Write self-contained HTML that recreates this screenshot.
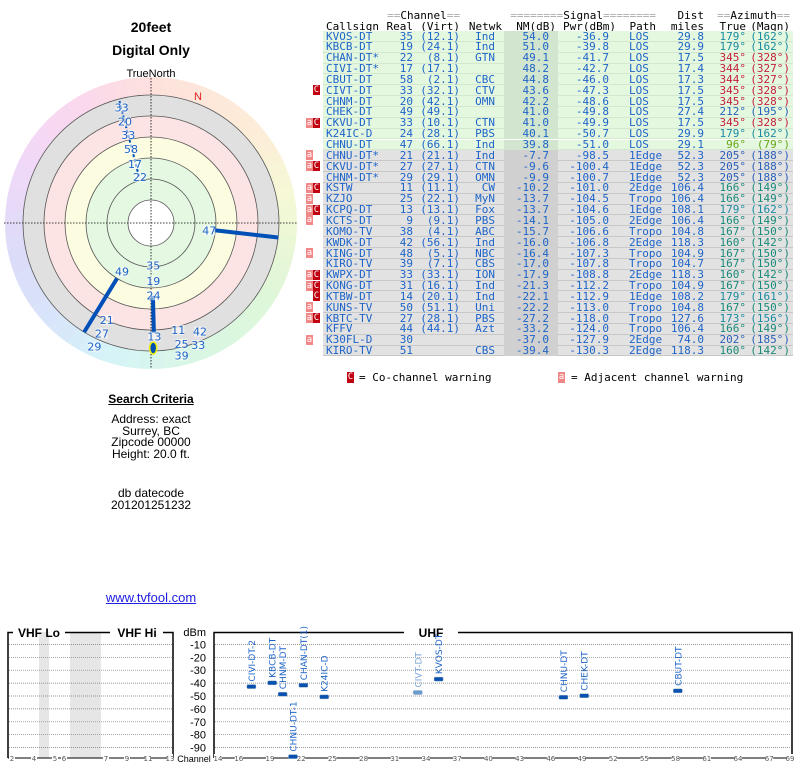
<!DOCTYPE html>
<html><head><meta charset="utf-8">
<style>
body{margin:0;width:800px;height:768px;background:#fff;position:relative;overflow:hidden;font-family:"Liberation Sans",sans-serif}
.a{position:absolute;white-space:pre}
.mono{font-family:"DejaVu Sans Mono","Liberation Mono",monospace;font-size:11px;color:#1e64c8}
.ctr{text-align:center}
.eq{color:#aaa}
</style></head><body>
<div class="a ctr" style="left:51px;top:19px;width:200px;font-weight:bold;font-size:14px">20feet</div>
<div class="a ctr" style="left:51px;top:42px;width:200px;font-weight:bold;font-size:14px">Digital Only</div>
<div class="a ctr" style="left:101px;top:68px;width:100px;font-size:11px">TrueNorth</div>

<svg id="polar" class="a" style="left:0;top:0" width="300" height="380"></svg>

<div class="a ctr" style="left:51px;top:392px;width:200px;font-weight:bold;font-size:12px;text-decoration:underline">Search Criteria</div>
<div class="a ctr" style="left:51px;top:414px;width:200px;font-size:12px;line-height:11.7px">Address: exact
Surrey, BC
Zipcode 00000
Height: 20.0 ft.</div>
<div class="a ctr" style="left:51px;top:487px;width:200px;font-size:12px;line-height:12px">db datecode
201201251232</div>
<div class="a ctr" style="left:51px;top:590px;width:200px;font-size:13px;color:#2020e0;text-decoration:underline">www.tvfool.com</div>

<div id="table" class="a" style="left:0;top:0;width:800px;height:390px"></div>

<svg id="spec" class="a" style="left:0;top:620px" width="800" height="148"></svg>

<script>
// ---------- table data ----------
const calls=["KVOS-DT","KBCB-DT","CHAN-DT*","CIVI-DT*","CBUT-DT","CIVT-DT","CHNM-DT","CHEK-DT","CKVU-DT","K24IC-D","CHNU-DT","CHNU-DT*","CKVU-DT*","CHNM-DT*","KSTW","KZJO","KCPQ-DT","KCTS-DT","KOMO-TV","KWDK-DT","KING-DT","KIRO-TV","KWPX-DT","KONG-DT","KTBW-DT","KUNS-TV","KBTC-TV","KFFV","K30FL-D","KIRO-TV"];
const realCh=[35,19,22,17,58,33,20,49,33,24,47,21,27,29,11,25,13,9,38,42,48,39,33,31,14,50,27,44,30,51];
const virtCh=["12.1","24.1","8.1","17.1","2.1","32.1","42.1","49.1","10.1","28.1","66.1","21.1","27.1","29.1","11.1","22.1","13.1","9.1","4.1","56.1","5.1","7.1","33.1","16.1","20.1","51.1","28.1","44.1","",""];
const netwk=["Ind","Ind","GTN","","CBC","CTV","OMN","","CTN","PBS","Ind","Ind","CTN","OMN","CW","MyN","Fox","PBS","ABC","Ind","NBC","CBS","ION","Ind","Ind","Uni","PBS","Azt","","CBS"];
const nmDb=[54.0,51.0,49.1,48.2,44.8,43.6,42.2,41.0,41.0,40.1,39.8,-7.7,-9.6,-9.9,-10.2,-13.7,-13.7,-14.1,-15.7,-16.0,-16.4,-17.0,-17.9,-21.3,-22.1,-22.2,-27.2,-33.2,-37.0,-39.4];
const pwrDbm=[-36.9,-39.8,-41.7,-42.7,-46.0,-47.3,-48.6,-49.8,-49.9,-50.7,-51.0,-98.5,-100.4,-100.7,-101.0,-104.5,-104.6,-105.0,-106.6,-106.8,-107.3,-107.8,-108.8,-112.2,-112.9,-113.0,-118.0,-124.0,-127.9,-130.3];
const paths=["LOS","LOS","LOS","LOS","LOS","LOS","LOS","LOS","LOS","LOS","LOS","1Edge","1Edge","1Edge","2Edge","Tropo","1Edge","2Edge","Tropo","2Edge","Tropo","Tropo","2Edge","Tropo","1Edge","Tropo","Tropo","Tropo","2Edge","2Edge"];
const distMi=[29.8,29.9,17.5,17.4,17.3,17.5,17.5,27.4,17.5,29.9,29.1,52.3,52.3,52.3,106.4,106.4,108.1,106.4,104.8,118.3,104.9,104.7,118.3,104.9,108.2,104.8,127.6,106.4,74.0,118.3];
const azTrue=[179,179,345,344,344,345,345,212,345,179,96,205,205,205,166,166,179,166,167,160,167,167,160,167,179,167,173,166,202,160];
const azMagn=[162,162,328,327,327,328,328,195,328,162,79,188,188,188,149,149,162,149,150,142,150,150,142,150,161,150,156,149,185,142];
const warns=["","","","","","c","","","ac","","","a","ac","","ac","a","ac","a","","","a","","ac","ac","c","a","ac","","a",""];

function azColor(a){
  if(a>=340) return "#c41e3a";
  if(a===96) return "#6aa518";
  if(a>=200||a===212) return "#2a5fb8";
  if(a===179||a===173) return "#1a8aa0";
  return "#1a8a78";
}
const tb=document.getElementById('table');
function txt(parent,x,y,s,opts){
  const d=document.createElement('div');
  d.className='a mono';
  d.style.top=y+'px';
  if(opts&&opts.right!==undefined){d.style.right=(800-opts.right)+'px';}
  else d.style.left=x+'px';
  if(opts&&opts.color) d.style.color=opts.color;
  d.innerHTML=s;
  parent.appendChild(d);
  return d;
}
// headers
let h;
h=txt(tb,0,9,'<span class="eq">==</span>Channel<span class="eq">==</span>',{right:460});h.style.color='#000';


h=txt(tb,0,9,'<span class="eq">========</span>Signal<span class="eq">========</span>',{right:656});h.style.color='#000';


h=txt(tb,0,9,'Dist',{right:704});h.style.color='#000';


h=txt(tb,0,9,'<span class="eq">==</span>Azimuth<span class="eq">==</span>',{right:790});h.style.color='#000';


const hdrs=[['Callsign',326,null],['Real',null,413],['(Virt)',null,460],['Netwk',null,502],['NM(dB)',null,556],['Pwr(dBm)',null,616],['Path',null,656],['miles',null,704],['True',null,746],['(Magn)',null,790]];
hdrs.forEach(a=>{
  const d=a[1]!==null?txt(tb,a[1],20,a[0]):txt(tb,0,20,a[0],{right:a[2]});
  d.style.color='#000';
  
  
});

const rowH=10.85, top0=31;
for(let i=0;i<calls.length;i++){
  const y=top0+i*rowH;
  const los=nmDb[i]>0;
  const bg=document.createElement('div');
  bg.className='a';
  bg.style.cssText=`left:323px;top:${y}px;width:470px;height:${rowH}px;background:${los?'#e4f8e0':'#e2e2e2'};border-bottom:1px solid ${los?'#d4e8d0':'#c8c8c8'};box-sizing:border-box`;
  
  
  tb.appendChild(bg);
  const sh=document.createElement('div');
  sh.className='a';
  sh.style.cssText=`left:504px;top:${y}px;width:54px;height:${rowH}px;background:${los?'#d2e6cf':'#d0d0d0'}`;
  tb.appendChild(sh);
  const ty=y-1.5;
  const c1=txt(tb,326,ty,calls[i]);
  
  
  txt(tb,0,ty,String(realCh[i]),{right:413});
  if(virtCh[i]) txt(tb,0,ty,'('+virtCh[i]+')',{right:460});
  if(netwk[i]) txt(tb,0,ty,netwk[i],{right:495});
  txt(tb,0,ty,nmDb[i].toFixed(1),{right:549});
  txt(tb,0,ty,pwrDbm[i].toFixed(1),{right:609});
  txt(tb,629,ty,paths[i]);
  txt(tb,0,ty,distMi[i].toFixed(1),{right:704});
  const col=azColor(azTrue[i]);
  txt(tb,0,ty,azTrue[i]+'°',{right:746,color:col});
  txt(tb,0,ty,'('+azMagn[i]+'°)',{right:790,color:col});
  const w=warns[i];
  if(w.includes('c')){
    const b=document.createElement('div');b.className='a';
    b.style.cssText=`left:313px;top:${y}px;width:7px;height:10px;background:#c00010;color:#fff;font:9px "DejaVu Sans Mono",monospace;text-align:center;line-height:10px`;
    b.textContent='C';
    
    
    tb.appendChild(b);
  }
  if(w.includes('a')){
    const b=document.createElement('div');b.className='a';
    b.style.cssText=`left:306px;top:${y}px;width:7px;height:10px;background:#f08888;color:#fff;font:9px "DejaVu Sans Mono",monospace;text-align:center;line-height:10px`;
    b.textContent='a';
    
    
    tb.appendChild(b);
  }
}
// legend
(function(){
  const ly=372;
  const b1=document.createElement('div');b1.className='a';
  b1.style.cssText=`left:347px;top:${ly}px;width:7px;height:11px;background:#c00010;color:#fff;font:9px monospace;text-align:center;line-height:11px`;b1.textContent='C';
  
  
  tb.appendChild(b1);
  const t1=txt(tb,359,ly-1,'= Co-channel warning');t1.style.color='#000';
  
  
  const b2=document.createElement('div');b2.className='a';
  b2.style.cssText=`left:558px;top:${ly}px;width:7px;height:11px;background:#f08888;color:#fff;font:9px monospace;text-align:center;line-height:11px`;b2.textContent='a';
  
  
  tb.appendChild(b2);
  const t2=txt(tb,571,ly-1,'= Adjacent channel warning');t2.style.color='#000';
  
  
})();

// ---------- polar data ----------
const lineAz=[345.5,96.5,211.5,178.5];
const lineR1=[48,64,65,73];
const lineR2=[128,128,128,110];
const lineW=[2,4,4,4];
const labelTxt=["33","20","33","58","17","22","47","35","19","24","49","21","27","29","13","11","42","25","33","39"];
const labelAz=[345.7,345.6,345.5,344.9,344.8,346.6,97.5,177,177.7,178,210.8,204.5,204,204.6,178.3,165.7,155.7,165.8,158.8,167];
const labelR=[119,104.6,90.9,76.7,61,47.3,58.8,42.8,58,72.3,56.7,106.6,120.8,136,113.7,110.4,119.2,124.8,130.8,136.2];
const cx=151, cy=223;
const NS='http://www.w3.org/2000/svg';
const P=document.getElementById('polar');
function pol(az,r){const a=az*Math.PI/180;return [cx+r*Math.sin(a),cy-r*Math.cos(a)];}
function el(tag,attrs,parent){const e=document.createElementNS(NS,tag);for(const k in attrs)e.setAttribute(k,attrs[k]);(parent||P).appendChild(e);return e;}
const hueStops=[[0,'#fde2dc'],[45,'#fdecd8'],[75,'#f6f8d6'],[120,'#def7d8'],[165,'#d8f6e6'],[195,'#d6f4f8'],[225,'#d8e4fa'],[255,'#dcdcf8'],[295,'#f2d8f8'],[330,'#fbd8ec'],[360,'#fde2dc']];
function lerpC(a,b,t){const pa=[1,3,5].map(i=>parseInt(a.substr(i,2),16)),pb=[1,3,5].map(i=>parseInt(b.substr(i,2),16));return 'rgb('+pa.map((v,i)=>Math.round(v+(pb[i]-v)*t)).join(',')+')';}
for(let d=0;d<360;d+=5){
  let k=0;while(hueStops[k+1][0]<=d)k++;
  const t=(d-hueStops[k][0])/(hueStops[k+1][0]-hueStops[k][0]);
  const c=lerpC(hueStops[k][1],hueStops[k+1][1],t);
  const p1=pol(d-0.3,146),p2=pol(d+5.3,146);
  el('path',{d:`M${cx},${cy}L${p1[0]},${p1[1]}A146,146 0 0 1 ${p2[0]},${p2[1]}Z`,fill:c});
}
el('circle',{cx,cy,r:128,fill:'#e0e0e0'});
el('circle',{cx,cy,r:107,fill:'#fde4e4'});
el('circle',{cx,cy,r:86,fill:'#fcfce0'});
el('circle',{cx,cy,r:65,fill:'#e4f8e2'});
el('circle',{cx,cy,r:23,fill:'#ffffff'});
[23,44,65,86,107,128].forEach(r=>el('circle',{cx,cy,r,fill:'none',stroke:'#555','stroke-width':0.8}));
el('line',{x1:4,y1:cy,x2:297,y2:cy,stroke:'#000','stroke-width':0.8,'stroke-dasharray':'1.5,1.5'});
el('line',{x1:cx,y1:78,x2:cx,y2:368,stroke:'#000','stroke-width':0.8,'stroke-dasharray':'1.5,1.5'});
const nL=el('text',{x:194,y:100,fill:'#e02020','font-size':11,'font-family':'Liberation Sans, sans-serif'});nL.textContent='N';


for(let i=0;i<lineAz.length;i++){
  const a=pol(lineAz[i],lineR1[i]),b=pol(lineAz[i],lineR2[i]);
  const l=el('line',{x1:a[0],y1:a[1],x2:b[0],y2:b[1],stroke:'#0050b8','stroke-width':lineW[i],'stroke-dasharray':lineW[i]===2?'3,2':'none'});
  
  
}
const ov=pol(179,125);
const oval=el('ellipse',{cx:ov[0],cy:ov[1],rx:3.5,ry:6,fill:'#0050b8',stroke:'#f0f000','stroke-width':1.5});


for(let i=0;i<labelTxt.length;i++){
  const p=pol(labelAz[i],labelR[i]);
  el('rect',{x:p[0]-6,y:p[1]-5,width:12,height:10,fill:'rgba(255,255,255,0.55)'});
  const t=el('text',{x:p[0],y:p[1]+4,'text-anchor':'middle',fill:'#1e64c8','font-size':11,'font-family':'DejaVu Sans, sans-serif'});
  t.textContent=labelTxt[i];
  
  
}

// ---------- spectrum chart ----------
const specCalls=["CIVI-DT-2","KBCB-DT","CHNM-DT","CHNU-DT-1","CHAN-DT(1)","K24IC-D","CIVT-DT","KVOS-DT","CHNU-DT","CHEK-DT","CBUT-DT"];
const specCh=[17,19,20,21,22,24,33,35,47,49,58];
const specDbm=[-42.7,-39.8,-48.6,-98.5,-41.7,-50.7,-47.3,-36.9,-51.0,-49.8,-46.0];
const specFaded=[0,0,0,0,0,0,1,0,0,0,0];
const dbTicks=[-10,-20,-30,-40,-50,-60,-70,-80,-90];
const uhfTicks=[14,16,19,22,25,28,31,34,37,40,43,46,49,52,55,58,61,64,67,69];
const vhfTicks=[2,4,5,6,7,9,11,13];
const vhfTickX=[12,34,55,64,106,127,148,170];
const S=document.getElementById('spec');
function sel(tag,attrs){return el(tag,attrs,S);}
const yDb=v=>11.5-v*1.29;
const xCh=c=>215+(c-14+0.5)*10.4;
sel('rect',{x:39,y:12,width:10,height:126,fill:'#e6e6e6'});
sel('rect',{x:70,y:12,width:31,height:126,fill:'#e6e6e6'});
dbTicks.forEach(v=>{
  const y=yDb(v);
  sel('line',{x1:9,y1:y,x2:172,y2:y,stroke:'#777','stroke-width':0.7,'stroke-dasharray':'1,1'});
  sel('line',{x1:215,y1:y,x2:791,y2:y,stroke:'#777','stroke-width':0.7,'stroke-dasharray':'1,1'});
  const t=sel('text',{x:206,y:y+4,'text-anchor':'end','font-size':11,'font-family':'Liberation Sans, sans-serif'});t.textContent=String(v);
  
  
});
const dbm=sel('text',{x:206,y:16,'text-anchor':'end','font-size':11,'font-family':'Liberation Sans, sans-serif'});dbm.textContent='dBm';


sel('path',{d:'M8,138V12.5H13 M65,12.5H110 M163,12.5H173V138',stroke:'#000','stroke-width':1.5,fill:'none'});
sel('path',{d:'M214,138V12.5H404 M458,12.5H792V138',stroke:'#000','stroke-width':1.5,fill:'none'});
[['VHF Lo',39,'vhf-lo-title'],['VHF Hi',137,'vhf-hi-title'],['UHF',431,'uhf-title']].forEach(a=>{
  const t=sel('text',{x:a[1],y:17,'text-anchor':'middle','font-size':12,'font-weight':'bold','font-family':'Liberation Sans, sans-serif'});t.textContent=a[0];
  
  
});
sel('line',{x1:8,y1:138,x2:173,y2:138,stroke:'#000','stroke-width':1});
sel('line',{x1:214,y1:138,x2:792,y2:138,stroke:'#000','stroke-width':1});
vhfTicks.forEach((c,i)=>{
  sel('rect',{x:vhfTickX[i]-3,y:134,width:6,height:8,fill:'#fff'});
  const t=sel('text',{x:vhfTickX[i],y:141,'text-anchor':'middle','font-size':7,fill:'#555','font-family':'DejaVu Sans, sans-serif'});t.textContent=c;
  
  
});
uhfTicks.forEach(c=>{
  const x=215+(c-14)*10.4+3;
  sel('rect',{x:x-4,y:134,width:8,height:8,fill:'#fff'});
  const t=sel('text',{x:x,y:141,'text-anchor':'middle','font-size':7,fill:'#555','font-family':'DejaVu Sans, sans-serif'});t.textContent=c;
  
  
});
const chl=sel('text',{x:194,y:142,'text-anchor':'middle','font-size':9,'font-family':'Liberation Sans, sans-serif'});chl.textContent='Channel';


for(let i=0;i<specCh.length;i++){
  const x=xCh(specCh[i]), y=yDb(Math.max(specDbm[i],-97));
  const col=specFaded[i]?'#6a9ad0':'#0a50b0';
  const b=sel('rect',{x:x-4.5,y:y-2,width:9,height:4,rx:1,fill:col,stroke:'#8ab','stroke-width':0.4});
  
  
  const t=sel('text',{x:0,y:0,transform:`translate(${x+3.5},${y-5}) rotate(-90)`,'text-anchor':'start','font-size':9,fill:specFaded[i]?'#7aa4d8':'#1e64c8','font-family':'DejaVu Sans, sans-serif'});
  t.textContent=specCalls[i];
  
  
}
</script>
</body></html>
